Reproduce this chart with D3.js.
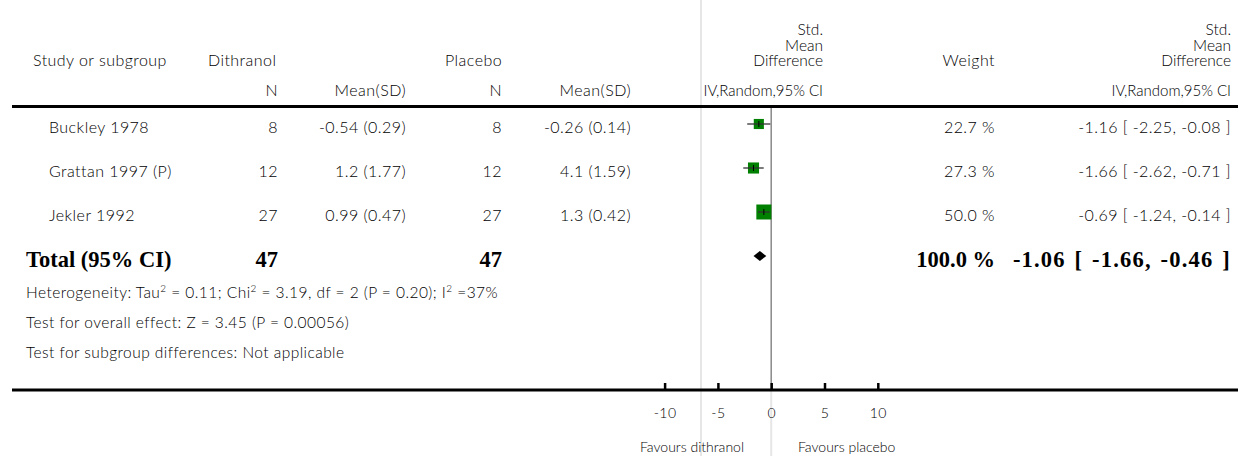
<!DOCTYPE html>
<html><head><meta charset="utf-8">
<script src="https://cdn.jsdelivr.net/npm/d3@7/dist/d3.min.js"></script>
<style>
body{margin:0;background:#fff;}
svg{display:block;}
text{font-family:Lato,"Open Sans",sans-serif;fill:#000;font-weight:300;}
.reg{letter-spacing:0.45px;}
.narrow{letter-spacing:0px;}
.bold{font-family:"Liberation Serif","DejaVu Serif",serif;font-weight:bold;fill:#000;}
.boldw{font-family:"Liberation Serif","DejaVu Serif",serif;font-weight:bold;fill:#000;letter-spacing:1.2px;word-spacing:2px;}
</style></head>
<body>
<script>
const studies = ["Buckley 1978", "Grattan 1997 (P)", "Jekler 1992"];
const nDith = [8, 12, 27];
const meanDith = ["-0.54 (0.29)", "1.2 (1.77)", "0.99 (0.47)"];
const nPlac = [8, 12, 27];
const meanPlac = ["-0.26 (0.14)", "4.1 (1.59)", "1.3 (0.42)"];
const weights = [22.7, 27.3, 50.0];
const smd = [-1.16, -1.66, -0.69];
const ciLow = [-2.25, -2.62, -1.24];
const ciHigh = [-0.08, -0.71, -0.14];
const totalN = [47, 47];
const totalWeight = 100.0;
const totalSmd = -1.06, totalLow = -1.66, totalHigh = -0.46;
const tickValues = [-10, -5, 0, 5, 10];

const W = 1238, H = 456;
const svg = d3.select("body").append("svg").attr("width", W).attr("height", H);

const x = d3.scaleLinear().domain([-10, 10]).range([664.6, 877.8]);
const rowY = d3.scalePoint().domain(d3.range(studies.length + 1)).range([124, 256]);
const size = d3.scaleSqrt().domain([0, 50]).range([0, 15]);
const fmt2 = v => v.toFixed(2);
const fs = 16;

// light vertical guide lines
svg.append("line").attr("x1", 701).attr("x2", 701).attr("y1", 0).attr("y2", H)
  .attr("stroke", "#e6e6e6").attr("stroke-width", 2);
svg.append("line").attr("x1", x(0)).attr("x2", x(0)).attr("y1", 390).attr("y2", H)
  .attr("stroke", "#e6e6e6").attr("stroke-width", 2);

function t(xp, yp, str, anchor, cls, size2) {
  return svg.append("text").attr("x", xp).attr("y", yp).attr("text-anchor", anchor || "start")
    .attr("class", cls || "reg").style("font-size", (size2 || fs) + "px").text(str);
}
// header
t(33, 66, "Study or subgroup");
t(208, 66, "Dithranol");
t(445, 66, "Placebo");
t(278, 96, "N", "end");
t(406, 96, "Mean(SD)", "end");
t(502, 96, "N", "end");
t(631, 96, "Mean(SD)", "end");
["Std.", "Mean", "Difference"].forEach((s, i) => {
  t(823, 35 + i * 15.5, s, "end", "narrow", 15.5);
  t(1231, 35 + i * 15.5, s, "end", "narrow", 15.5);
});
t(995, 66, "Weight", "end");
t(823, 96, "IV,Random,95% CI", "end", "narrow", 15);
t(1231, 96, "IV,Random,95% CI", "end", "narrow", 15);

svg.append("line").attr("x1", 12).attr("x2", W).attr("y1", 106.5).attr("y2", 106.5)
  .attr("stroke", "#000").attr("stroke-width", 3);

// zero line
svg.append("line").attr("x1", x(0)).attr("x2", x(0)).attr("y1", 108).attr("y2", 390)
  .attr("stroke", "#888").attr("stroke-width", 1.5);

// study rows
studies.forEach((s, i) => {
  const y = rowY(i), by = y + 9;
  t(49, by, s);
  t(278, by, nDith[i], "end");
  t(406, by, meanDith[i], "end");
  t(502, by, nPlac[i], "end");
  t(631, by, meanPlac[i], "end");
  t(995, by, weights[i].toFixed(1) + " %", "end");
  t(1231, by, fmt2(smd[i]) + " [ " + fmt2(ciLow[i]) + ", " + fmt2(ciHigh[i]) + " ]", "end");
  const sz = size(weights[i]);
  svg.append("rect").attr("x", x(smd[i]) - sz / 2).attr("y", y - sz / 2)
    .attr("width", sz).attr("height", sz).attr("fill", "#008000");
  svg.append("line").attr("x1", x(ciLow[i])).attr("x2", x(ciHigh[i])).attr("y1", y).attr("y2", y)
    .attr("stroke", "#333").attr("stroke-width", 1.3);
  svg.append("line").attr("x1", x(smd[i])).attr("x2", x(smd[i])).attr("y1", y - 3).attr("y2", y + 3)
    .attr("stroke", "#000").attr("stroke-width", 1);
});

// total row
const ty = rowY(studies.length), tb = ty + 11;
const bsz = 22.5;
t(26, tb, "Total (95% CI)", "start", "bold", bsz);
t(278, tb, totalN[0], "end", "bold", bsz);
t(502, tb, totalN[1], "end", "bold", bsz);
t(995, tb, totalWeight.toFixed(1) + " %", "end", "bold", bsz);
t(1231, tb, fmt2(totalSmd) + " [ " + fmt2(totalLow) + ", " + fmt2(totalHigh) + " ]", "end", "boldw", bsz);
svg.append("path")
  .attr("d", `M${x(totalLow)},${ty} L${x(totalSmd)},${ty - 5} L${x(totalHigh)},${ty} L${x(totalSmd)},${ty + 5} Z`)
  .attr("fill", "#000");

// footnotes
const het = svg.append("text").attr("class", "reg").attr("x", 26).attr("y", 298).style("font-size", "15.5px");
het.append("tspan").text("Heterogeneity: Tau");
het.append("tspan").attr("dy", -6).style("font-size", "10px").text("2");
het.append("tspan").attr("dy", 6).text(" = 0.11; Chi");
het.append("tspan").attr("dy", -6).style("font-size", "10px").text("2");
het.append("tspan").attr("dy", 6).text(" = 3.19, df = 2 (P = 0.20); I");
het.append("tspan").attr("dy", -6).style("font-size", "10px").text("2");
het.append("tspan").attr("dy", 6).text(" =37%");
t(26, 328, "Test for overall effect: Z = 3.45 (P = 0.00056)", "start", null, 15.5);
t(26, 358, "Test for subgroup differences: Not applicable", "start", null, 15.5);

// axis
svg.append("line").attr("x1", 12).attr("x2", W).attr("y1", 390).attr("y2", 390)
  .attr("stroke", "#000").attr("stroke-width", 3);
const axTop = svg.append("g").attr("transform", "translate(0,389)")
  .call(d3.axisTop(x).tickValues(tickValues).tickSize(6).tickFormat(""));
axTop.select(".domain").remove();
axTop.selectAll(".tick line").attr("stroke", "#000").attr("stroke-width", 2.5);
const axBot = svg.append("g").attr("transform", "translate(0,390)")
  .call(d3.axisBottom(x).tickValues(tickValues).tickSize(0).tickPadding(18).tickFormat(d => String(d)));
axBot.select(".domain").remove();
axBot.selectAll(".tick text").style("font-family", "Lato,sans-serif").style("font-size", "14px")
  .style("font-weight", "300").style("letter-spacing", "0.4px").attr("fill", "#111");

t(744, 452, "Favours dithranol", "end", "narrow", 14);
t(798, 452, "Favours placebo", "start", "narrow", 14);
</script>
</body></html>
